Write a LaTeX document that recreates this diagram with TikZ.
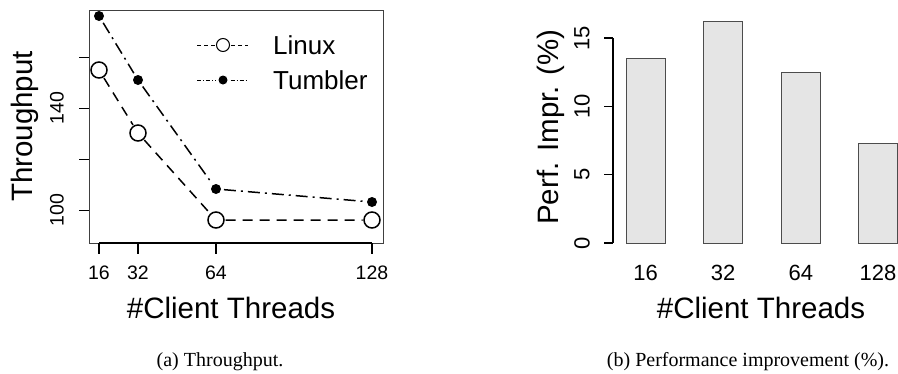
\documentclass[tikz,border=0pt]{standalone}
\usepackage{fontspec}
\setmainfont{Liberation Serif}
\setsansfont{Liberation Sans}
\usepackage{tikz}
\usepackage{color}

\definecolor{barfill}{gray}{0.9}
\definecolor{barline}{gray}{0.3}

\tikzset{%
  ticklab/.style={font=\sffamily\fontsize{19.5}{23}\selectfont},
  ticklabb/.style={font=\sffamily\fontsize{22}{26}\selectfont},
  axtitle/.style={font=\sffamily\fontsize{29.5}{34}\selectfont},
  legtext/.style={font=\sffamily\fontsize{26}{30}\selectfont, anchor=west},
  subcap/.style={font=\rmfamily\fontsize{20}{24}\selectfont},
  linuxpt/.style={circle, draw, fill=white, line width=1.5pt, minimum size=16pt, outer sep=1.5pt},
  tumblerpt/.style={circle, fill, minimum size=10pt, outer sep=3pt},
  linuxline/.style={line width=1.5pt, dash pattern=on 10pt off 7pt},
  tumblerline/.style={line width=1.5pt, dash pattern=on 12pt off 5pt on 2pt off 5pt},
  bar/.style={fill=barfill, draw=barline, line width=1pt},
}

\begin{document}
\begin{tikzpicture}[%
      x=1pt, y=-1pt,
      every node/.style={inner sep=0pt},
      ]
      \useasboundingbox (0,0) rectangle (898,373);

      % (a) throughput
      \draw [color=black!75, line width=1pt] (89,10) rectangle (383,243);
      \draw [line width=1.5pt] (99,243) -- (372,243);
      \draw [line width=1.5pt] (99,243) -- (99,254);
      \draw [line width=1.5pt] (138,243) -- (138,254);
      \draw [line width=1.5pt] (216,243) -- (216,254);
      \draw [line width=1.5pt] (372,243) -- (372,254);
      \draw [line width=1pt] (79,210) -- (89,210);
      \draw [line width=1pt] (79,159) -- (89,159);
      \draw [line width=1pt] (79,108) -- (89,108);
      \draw [line width=1pt] (79,57) -- (89,57);

      \node [ticklab] (xa16) at (99,273) {16};
      \node [ticklab] (xa32) at (138,273) {32};
      \node [ticklab] (xa64) at (216,273) {64};
      \node [ticklab] (xa128) at (372,273) {128};
      \node [ticklab, rotate=90] (ya100) at (57,210) {100};
      \node [ticklab, rotate=90] (ya140) at (57,108) {140};
      \node [axtitle] (xtitlea) at (231,308) {\#Client Threads};
      \node [axtitle, rotate=90] (ytitlea) at (25,126.5) {Throughput};

      \node [linuxpt] (lin16) at (99,70) {};
      \node [linuxpt] (lin32) at (138,133) {};
      \node [linuxpt] (lin64) at (216,220) {};
      \node [linuxpt] (lin128) at (372,220) {};
      \node [tumblerpt] (tum16) at (99,16) {};
      \node [tumblerpt] (tum32) at (138,80) {};
      \node [tumblerpt] (tum64) at (216,189) {};
      \node [tumblerpt] (tum128) at (372,202) {};
      \draw [linuxline] (lin16) -- (lin32) -- (lin64) -- (lin128);
      \draw [tumblerline] (tum16) -- (tum32) -- (tum64) -- (tum128);

      % legend
      \coordinate (legla) at (197,45);
      \coordinate (leglb) at (248,45);
      \coordinate (legta) at (197,80);
      \coordinate (legtb) at (248,80);
      \node [linuxpt, minimum size=13pt, line width=1pt] (leglin) at (223,45) {};
      \node [tumblerpt, minimum size=9pt] (legtum) at (223,80) {};
      \draw [line width=0.8pt, dash pattern=on 4pt off 3pt] (legla) -- (leglin) -- (leglb);
      \draw [line width=0.8pt, dash pattern=on 4pt off 2pt on 1pt off 2pt] (legta) -- (legtum) -- (legtb);
      \node [legtext] (leglintext) at (273,45) {Linux};
      \node [legtext] (legtumtext) at (273,80) {Tumbler};

      % (b) improvement
      \draw [line width=1.5pt] (613,243) -- (613,38);
      \draw [line width=1.5pt] (604,243) -- (613,243);
      \draw [line width=1.5pt] (604,174.7) -- (613,174.7);
      \draw [line width=1.5pt] (604,106.3) -- (613,106.3);
      \draw [line width=1.5pt] (604,38) -- (613,38);
      \node [ticklabb, rotate=90] (yb0) at (582,243) {0};
      \node [ticklabb, rotate=90] (yb5) at (582,174.7) {5};
      \node [ticklabb, rotate=90] (yb10) at (582,106.3) {10};
      \node [ticklabb, rotate=90] (yb15) at (582,38) {15};

      \draw [bar] (626,243) rectangle (665,58.5);
      \draw [bar] (703.7,243) rectangle (742.7,21.5);
      \draw [bar] (781.4,243) rectangle (820.4,72.1);
      \draw [bar] (858.5,243) rectangle (897.5,143.2);

      \node [ticklabb] (xb16) at (645.5,273) {16};
      \node [ticklabb] (xb32) at (723.2,273) {32};
      \node [ticklabb] (xb64) at (800.9,273) {64};
      \node [ticklabb] (xb128) at (878,273) {128};
      \node [axtitle] (xtitleb) at (761,308) {\#Client Threads};
      \node [axtitle, rotate=90] (ytitleb) at (551,127) {Perf. Impr. (\%)};

      % captions
      \node [subcap] (capa) at (220,362) {(a) Throughput.};
      \node [subcap] (capb) at (748,362) {(b) Performance improvement ($\%$).};
\end{tikzpicture}
\end{document}
